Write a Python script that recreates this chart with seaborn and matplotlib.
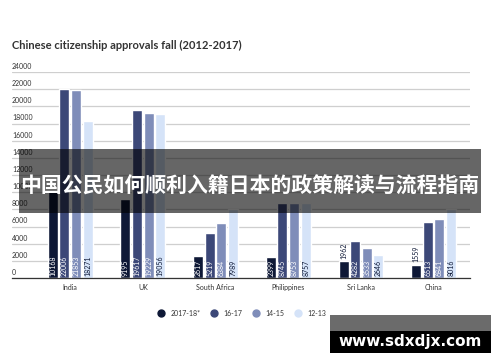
import numpy as np
import pandas as pd
import matplotlib
matplotlib.use('Agg')
import matplotlib.pyplot as plt
import matplotlib.transforms as mtransforms
from matplotlib.lines import Line2D
from matplotlib.patches import Rectangle
import seaborn as sns

# ── data ──────────────────────────────────────
countries = ['India', 'UK', 'South Africa', 'Philippines', 'Sri Lanka', 'China']
periods = ['2017-18*', '16-17', '14-15', '12-13']
v_2017_18 = [10168, 9195, 2617, 2399, 1962, 1559]
v_16_17 = [22006, 19617, 5219, 8745, 4282, 6513]
v_14_15 = [21853, 19229, 6384, 8753, 3533, 6841]
v_12_13 = [18271, 19056, 7989, 8757, 2646, 8016]
y_ticks = [0, 2000, 4000, 6000, 8000, 10000, 12000, 14000, 16000, 18000, 20000, 22000, 24000]
title = 'Chinese citizenship approvals fall (2012-2017)'
banner = '中国公民如何顺利入籍日本的政策解读与流程指南'
watermark = 'www.sdxdjx.com'

colors = ['#0e1836', '#3c4878', '#7f8db9', '#d5e3f8']

rows = []
for period, vals in zip(periods, [v_2017_18, v_16_17, v_14_15, v_12_13]):
    for c, v in zip(countries, vals):
        rows.append({'Country': c, 'Period': period, 'Approvals': v})
df = pd.DataFrame(rows)

sns.set_theme(style='white')
plt.rcParams['font.family'] = ['Lato', 'DejaVu Sans']

fig = plt.figure(figsize=(5, 3.62), dpi=100)
ax = fig.add_axes([0.024, 0.232, 0.916, 0.569])

sns.barplot(data=df, x='Country', y='Approvals', hue='Period',
            order=countries, hue_order=periods, palette=colors,
            width=0.64, gap=0.14, saturation=1, legend=False, ax=ax)

ax.set_ylim(0, 24000)
ax.set_xlim(-0.80, 5.5)

# gridlines + labels sitting above the line
ax.set_yticks(y_ticks)
ax.set_yticklabels([])
ax.tick_params(axis='y', length=0)
ax.yaxis.grid(True, color='#cfcfcf', linewidth=0.9)
ax.set_axisbelow(True)
trans = mtransforms.blended_transform_factory(ax.transAxes, ax.transData)
for t in y_ticks:
    ax.text(0.0, t + 250, str(t), transform=trans, fontsize=5, color='#333333',
            ha='left', va='bottom')

for s in ['top', 'right', 'left']:
    ax.spines[s].set_visible(False)
ax.spines['bottom'].set_color('#333333')
ax.spines['bottom'].set_linewidth(0.9)

# category labels and separators
ax.set_xticks(range(len(countries)))
ax.set_xticklabels(countries, fontsize=5, color='#333333')
ax.tick_params(axis='x', which='major', length=0, pad=4)
ax.set_xticks(np.arange(-0.5, len(countries), 1.0), minor=True)
ax.tick_params(axis='x', which='minor', length=8.5, width=0.7, color='#333333', direction='out')
ax.set_xlabel('')
ax.set_ylabel('')

# value labels on bars
for i, cont in enumerate(ax.containers):
    for bar, val in zip(cont, df[df['Period'] == periods[i]]['Approvals']):
        x = bar.get_x() + bar.get_width() / 2
        if val < 2200:
            ax.text(x, val + 250, str(val), rotation=90, ha='center', va='bottom',
                    fontsize=5, color='#0e1836')
        else:
            ax.text(x, 250, str(val), rotation=90, ha='center', va='bottom',
                    fontsize=5, color='#0e1836' if i == 3 else 'white')

fig.text(0.024, 0.875, title, fontsize=8, fontweight='bold', color='#333333',
         ha='left', va='center')

# legend
handles = [Line2D([0], [0], marker='o', linestyle='', markersize=5,
                  markerfacecolor=c, markeredgecolor=c) for c in colors]
fig.legend(handles, periods, loc='center', bbox_to_anchor=(0.48, 0.135), ncol=4,
           frameon=False, fontsize=5, handletextpad=0.3, columnspacing=1.0,
           labelcolor='#333333')

# overlay banner
fig.add_artist(Rectangle((0.038, 0.412), 0.924, 0.177, transform=fig.transFigure,
                         facecolor='black', alpha=0.6, edgecolor='none'))
fig.text(0.5, 0.487, banner, fontsize=15, fontweight='bold', color='white',
         ha='center', va='center', family=['Noto Sans CJK SC', 'DejaVu Sans'])

# watermark box
fig.add_artist(Rectangle((0.66, 0.086), 0.322, 0.044, transform=fig.transFigure,
                         facecolor='#6b6b6b', edgecolor='none'))
fig.add_artist(Rectangle((0.66, 0.025), 0.322, 0.061, transform=fig.transFigure,
                         facecolor='black', edgecolor='none'))
fig.text(0.821, 0.057, watermark, fontsize=11, fontweight='bold', color='white',
         ha='center', va='center', family=['DejaVu Sans'])

plt.savefig('out.png', dpi=100)
